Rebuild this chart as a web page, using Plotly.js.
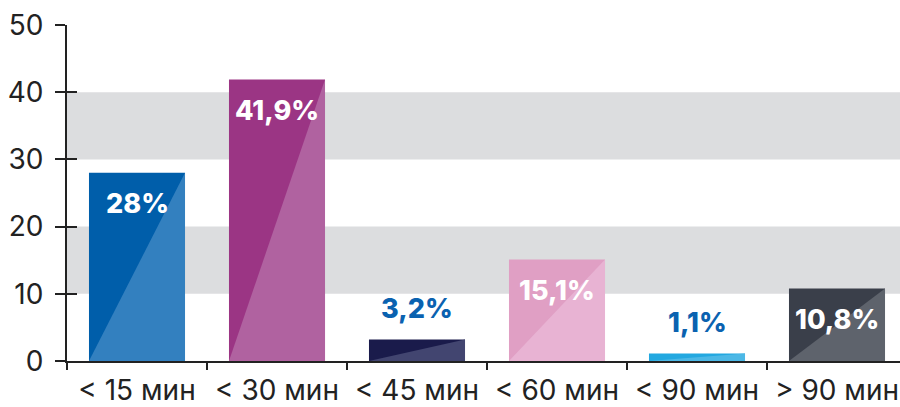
<!DOCTYPE html>
<html>
<head>
<meta charset="utf-8">
<script src="https://cdn.plot.ly/plotly-3.0.1.min.js"></script>
<style>
  html, body { margin: 0; padding: 0; background: #fff; }
  #chart { width: 900px; height: 407px; }
</style>
</head>
<body>
<div id="chart"></div>
<script>
// categories and values
const categories = ['< 15 мин', '< 30 мин', '< 45 мин', '< 60 мин', '< 90 мин', '> 90 мин'];
const values = [28, 41.9, 3.2, 15.1, 1.1, 10.8];
const valueLabels = ['28%', '41,9%', '3,2%', '15,1%', '1,1%', '10,8%'];
const darkColors = ['#005eaa', '#9b3584', '#1a1b4b', '#e09fc4', '#23a8e0', '#3a3f4a'];
const lightColors = ['#3380bf', '#b062a0', '#424570', '#e8b3d3', '#4cb8e6', '#5e636c'];
const yTicks = [0, 10, 20, 30, 40, 50];
const bands = [[10, 20], [30, 40]];

const barWidth = 0.686;
const xs = categories.map((c, i) => i);

const traces = [{
  x: xs,
  y: values,
  type: 'bar',
  width: barWidth,
  marker: { color: darkColors, line: { width: 0 } },
  hoverinfo: 'skip'
}];

// lighter triangle on the lower right of each bar
values.forEach((v, i) => {
  const l = i - barWidth / 2, r = i + barWidth / 2;
  traces.push({
    x: [l, r, r, l],
    y: [0, v, 0, 0],
    type: 'scatter',
    mode: 'lines',
    fill: 'toself',
    fillcolor: lightColors[i],
    line: { width: 0, color: lightColors[i] },
    hoverinfo: 'skip'
  });
});

// value labels: inside near the top for tall bars, blue above for short ones
const annotations = values.map((v, i) => {
  const inside = v > 5;
  return {
    x: i, y: v, xref: 'x', yref: 'y',
    text: valueLabels[i],
    showarrow: false,
    yanchor: inside ? 'middle' : 'bottom',
    yshift: inside ? -31 : 13,
    font: { family: 'Inter, sans-serif', size: 27, weight: 800, color: inside ? '#ffffff' : '#0a62b0' }
  };
});

const shapes = bands.map(b => ({
  type: 'rect', xref: 'paper', yref: 'y',
  x0: 0, x1: 1, y0: b[0], y1: b[1],
  fillcolor: '#dcdddf', line: { width: 0 }, layer: 'below'
}));

const tickFont = { family: 'Inter, sans-serif', size: 28, color: '#222222' };

const layout = {
  width: 900,
  height: 407,
  margin: { l: 67, r: 0, t: 25, b: 46 },
  paper_bgcolor: '#ffffff',
  plot_bgcolor: 'rgba(0,0,0,0)',
  showlegend: false,
  xaxis: {
    range: [-0.5, 5.45],
    tickvals: xs,
    ticktext: categories,
    ticks: '',
    showgrid: false,
    zeroline: false,
    showline: true,
    linecolor: '#222222',
    linewidth: 2,
    tickfont: tickFont,
    ticklabelstandoff: 3,
    fixedrange: true
  },
  xaxis2: {
    overlaying: 'x',
    anchor: 'y',
    side: 'bottom',
    range: [-0.5, 5.45],
    tickvals: [-0.5, 0.5, 1.5, 2.5, 3.5, 4.5, 5.5],
    ticks: 'outside',
    ticklen: 8,
    tickwidth: 2,
    tickcolor: '#222222',
    showticklabels: false,
    showgrid: false,
    zeroline: false
  },
  yaxis: {
    range: [0, 50],
    tickvals: yTicks,
    ticks: 'outside',
    ticklen: 10,
    tickwidth: 2,
    tickcolor: '#222222',
    showgrid: false,
    zeroline: false,
    showline: true,
    linecolor: '#222222',
    linewidth: 2,
    tickfont: tickFont,
    ticklabelstandoff: 6,
    fixedrange: true
  },
  yaxis2: {
    overlaying: 'y',
    anchor: 'x',
    side: 'left',
    range: [0, 50],
    tickvals: yTicks,
    ticks: 'inside',
    ticklen: 10,
    tickwidth: 2,
    tickcolor: '#222222',
    showticklabels: false,
    showgrid: false,
    zeroline: false
  },
  shapes: shapes,
  annotations: annotations
};

// dummy trace so the extra axes get drawn
traces.push({ x: [0], y: [0], xaxis: 'x2', yaxis: 'y2', type: 'scatter', mode: 'markers', marker: { opacity: 0 }, hoverinfo: 'skip' });

Plotly.newPlot('chart', traces, layout, { displayModeBar: false, staticPlot: true });
</script>
</body>
</html>
